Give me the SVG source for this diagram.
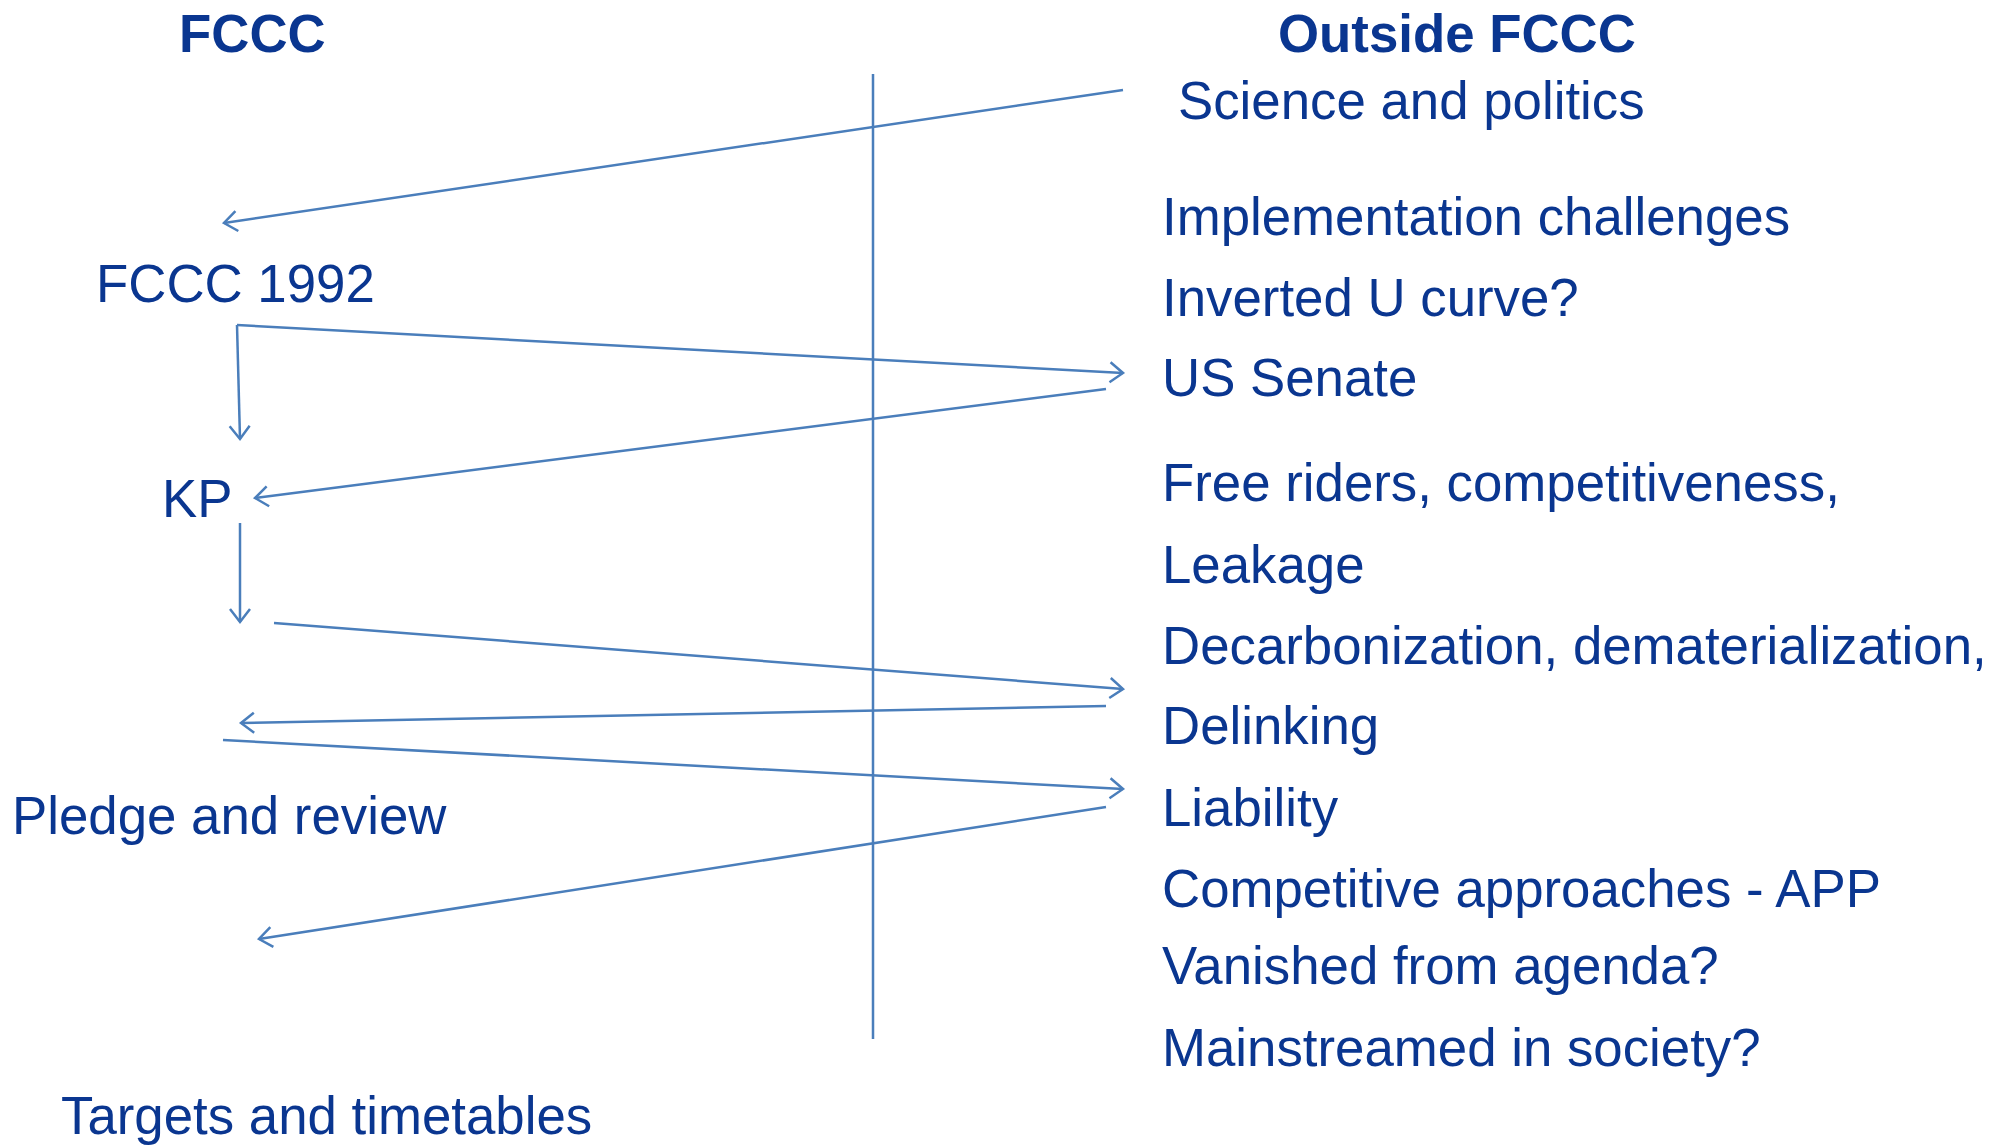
<svg xmlns="http://www.w3.org/2000/svg" width="2009" height="1145" viewBox="0 0 2009 1145">
<style>
text{font-family:"Liberation Sans",Arial,sans-serif;font-size:52.8px;fill:#0A3690}
.h{font-weight:bold}
.c line{stroke:#4A7EBB;stroke-width:2.5;fill:none}
.a{marker-end:url(#arr)}
</style>
<defs>
<marker id="arr" markerUnits="userSpaceOnUse" markerWidth="26" markerHeight="26" refX="15" refY="11" viewBox="0 0 26 22" orient="auto">
<path d="M2,1 L15,11 L2,21" fill="none" stroke="#4A7EBB" stroke-width="2.5"/>
</marker>
</defs>
<rect width="2009" height="1145" fill="#fff"/>
<g id="divider"><line x1="873" y1="74" x2="873" y2="1039" stroke="#4A7EBB" stroke-width="2.5"/></g>
<g id="hdr-fccc"><text class="h" x="179" y="52">FCCC</text></g>
<g id="hdr-outside"><text class="h" x="1278" y="52">Outside FCCC</text></g>
<g id="n-fccc1992"><text x="96" y="302">FCCC 1992</text></g>
<g id="n-kp"><text x="162" y="517">KP</text></g>
<g id="n-pledge"><text x="12" y="834">Pledge and review</text></g>
<g id="n-targets"><text x="61" y="1134">Targets and timetables</text></g>
<g id="n-science"><text x="1178" y="119">Science and politics</text></g>
<g id="n-impl"><text x="1162" y="235">Implementation challenges</text></g>
<g id="n-inverted"><text x="1162" y="316">Inverted U curve?</text></g>
<g id="n-ussenate"><text x="1162" y="396">US Senate</text></g>
<g id="n-free"><text x="1162" y="501">Free riders, competitiveness,</text></g>
<g id="n-leakage"><text x="1162" y="583">Leakage</text></g>
<g id="n-decarb"><text x="1162" y="664">Decarbonization, dematerialization,</text></g>
<g id="n-delinking"><text x="1162" y="744">Delinking</text></g>
<g id="n-liability"><text x="1162" y="826">Liability</text></g>
<g id="n-competitive"><text x="1162" y="907">Competitive approaches - APP</text></g>
<g id="n-vanished"><text x="1162" y="984">Vanished from agenda?</text></g>
<g id="n-mainstream"><text x="1162" y="1066">Mainstreamed in society?</text></g>
<g id="connectors" class="c">
<line class="a" x1="1123" y1="90" x2="224" y2="223"/>
<line class="a" x1="237" y1="325" x2="1123" y2="373"/>
<line class="a" x1="237" y1="325" x2="240" y2="439"/>
<line class="a" x1="1106" y1="389" x2="255" y2="498"/>
<line class="a" x1="240" y1="523" x2="240" y2="622"/>
<line class="a" x1="274" y1="623" x2="1123" y2="689"/>
<line class="a" x1="1106" y1="706" x2="241" y2="723"/>
<line class="a" x1="223" y1="740" x2="1123" y2="789"/>
<line class="a" x1="1106" y1="807" x2="259" y2="939"/>
</g>
</svg>
